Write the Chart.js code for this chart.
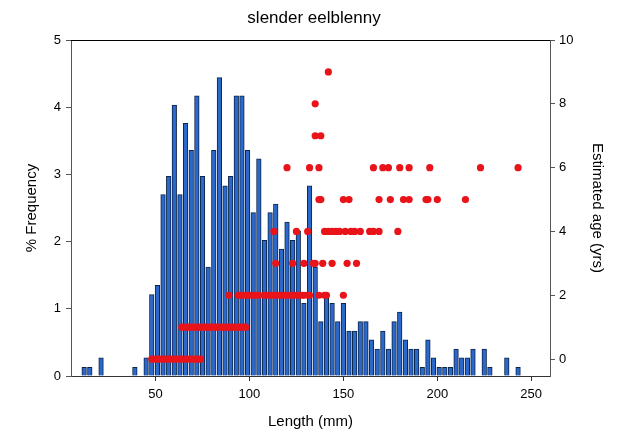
<!DOCTYPE html>
<html>
<head>
<meta charset="utf-8">
<script src="https://cdn.jsdelivr.net/npm/chart.js@4/dist/chart.umd.min.js"></script>
<style>
  html, body { margin: 0; padding: 0; background: #fff; }
  #wrap { width: 617px; height: 434px; }
</style>
</head>
<body>
<div id="wrap"><canvas id="c" width="617" height="434"></canvas></div>
<script>
// Length-frequency histogram (3 mm bins): bin centre (mm) and % frequency
const binLength = [12, 15, 21, 39, 45, 48, 51, 54, 57, 60, 63, 66, 69, 72, 75, 78, 81, 84, 87, 90,
  93, 96, 99, 102, 105, 108, 111, 114, 117, 120, 123, 126, 129, 132, 135, 138, 141, 144, 147, 150,
  153, 156, 159, 162, 165, 168, 171, 174, 177, 180, 183, 186, 189, 192, 195, 198, 201, 204, 207, 210,
  213, 216, 219, 225, 228, 237, 243];
const binPercent = [0.13, 0.13, 0.27, 0.13, 0.27, 1.21, 1.35, 2.70, 2.97, 4.03, 2.70, 3.76, 3.36, 4.17, 2.97, 1.62, 3.36, 4.44, 2.83, 2.97,
  4.17, 4.17, 3.36, 2.43, 3.23, 2.02, 2.43, 2.56, 1.89, 2.29, 2.02, 2.16, 1.08, 2.83, 1.62, 0.81, 1.21, 1.08, 0.81, 1.08,
  0.67, 0.67, 0.81, 0.81, 0.54, 0.40, 0.67, 0.40, 0.81, 0.95, 0.54, 0.40, 0.40, 0.13, 0.54, 0.27, 0.13, 0.13, 0.13, 0.40,
  0.27, 0.27, 0.40, 0.40, 0.13, 0.27, 0.13];

// Estimated age (yrs) of aged fish, by length (mm)
const lengthAge0 = [48, 49, 51, 52, 54, 55, 57, 58, 60, 61, 63, 64, 66, 67, 69, 70, 72, 73, 74];
const lengthAge1 = [64, 65, 67, 68, 70, 71, 73, 74, 76, 77, 79, 80, 82, 83, 85, 86, 88, 89, 91, 92, 94, 95, 97, 98];
const lengthAge2 = [89, 94, 95, 96, 98, 99, 100, 102, 103, 105, 108, 110, 111, 113, 114, 116, 117, 119, 120, 122,
  123, 125, 126, 128, 129, 131, 132, 137, 140, 141, 150];
const lengthAge3 = [114, 123, 129, 134, 135, 139, 144, 152, 157];
const lengthAge4 = [113, 125, 131, 140, 142, 144, 146, 148, 151, 154, 156, 159, 164, 166, 169, 179];
const lengthAge5 = [137, 138, 150, 153, 169, 175, 182, 185, 194, 195, 200, 215];
const lengthAge6 = [120, 132, 137, 166, 171, 174, 180, 185, 196, 223, 243];
const lengthAge7 = [135, 138];
const lengthAge8 = [135];
const lengthAge9 = [142];
const ageGroups = [lengthAge0, lengthAge1, lengthAge2, lengthAge3, lengthAge4, lengthAge5, lengthAge6, lengthAge7, lengthAge8, lengthAge9];

const xTicks = [50, 100, 150, 200, 250];
const yTicks = [0, 1, 2, 3, 4, 5];
const ageTicks = [0, 2, 4, 6, 8, 10];

const barPoints = binLength.map((x, i) => ({ x: x, y: binPercent[i] }));
const agePoints = [];
ageGroups.forEach((lens, age) => lens.forEach(l => agePoints.push({ x: l, y: age })));

const FONT = "'Liberation Sans', Arial, sans-serif";

const framePlugin = {
  id: 'frame',
  afterDraw(chart) {
    const { ctx, chartArea: a } = chart;
    ctx.save();
    ctx.strokeStyle = '#000';
    ctx.lineWidth = 1;
    ctx.beginPath();
    ctx.moveTo(a.left, a.top + 0.5);
    ctx.lineTo(a.right, a.top + 0.5);
    ctx.stroke();
    ctx.fillStyle = '#000';
    ctx.font = '17px ' + FONT;
    ctx.textAlign = 'center';
    ctx.textBaseline = 'middle';
    ctx.fillText('slender eelblenny', 314, 18);
    ctx.restore();
  }
};

new Chart(document.getElementById('c'), {
  type: 'bar',
  data: {
    datasets: [
      {
        type: 'scatter',
        data: agePoints,
        yAxisID: 'y2',
        xAxisID: 'x',
        pointRadius: 3.6,
        pointHoverRadius: 3.6,
        backgroundColor: '#e8141a',
        borderWidth: 0,
        order: 0
      },
      {
        type: 'bar',
        data: barPoints,
        yAxisID: 'y',
        xAxisID: 'x',
        backgroundColor: '#2a68cc',
        borderColor: '#0d2548',
        borderWidth: 1,
        barThickness: 4.6,
        order: 1
      }
    ]
  },
  options: {
    responsive: false,
    animation: false,
    devicePixelRatio: 1,
    layout: { padding: { top: 40, left: 0, right: 0, bottom: 0 } },
    plugins: { legend: { display: false }, tooltip: { enabled: false }, title: { display: false } },
    scales: {
      x: {
        type: 'linear',
        position: 'bottom',
        offset: false,
        min: 5,
        max: 260,
        afterFit(s) { s.height = 58; },
        afterBuildTicks(s) { s.ticks = xTicks.map(v => ({ value: v })); },
        ticks: { font: { family: FONT, size: 13 }, color: '#000', padding: 6, maxRotation: 0 },
        grid: { offset: false, drawOnChartArea: false, drawTicks: true, tickLength: 5, color: '#333' },
        border: { color: '#333' },
        title: { display: true, text: 'Length (mm)', font: { family: FONT, size: 15 }, color: '#000', padding: { top: 0, bottom: 3 } }
      },
      y: {
        position: 'left',
        min: 0,
        max: 5,
        afterFit(s) { s.width = 71; },
        afterBuildTicks(s) { s.ticks = yTicks.map(v => ({ value: v })); },
        ticks: { font: { family: FONT, size: 13 }, color: '#000', padding: 5 },
        grid: { drawOnChartArea: false, drawTicks: true, tickLength: 5, color: '#555' },
        border: { color: '#555' },
        title: { display: true, text: '% Frequency', font: { family: FONT, size: 15 }, color: '#000', padding: { top: 23, bottom: 0 } }
      },
      y2: {
        position: 'right',
        min: -0.53,
        max: 10,
        afterFit(s) { s.width = 67; },
        afterBuildTicks(s) { s.ticks = ageTicks.map(v => ({ value: v })); },
        ticks: { font: { family: FONT, size: 13 }, color: '#000', padding: 4 },
        grid: { drawOnChartArea: false, drawTicks: true, tickLength: 5, color: '#555' },
        border: { color: '#555' },
        title: { display: true, text: 'Estimated age (yrs)', font: { family: FONT, size: 15 }, color: '#000', padding: { top: 11, bottom: 0 } }
      }
    }
  },
  plugins: [framePlugin]
});
</script>
</body>
</html>
